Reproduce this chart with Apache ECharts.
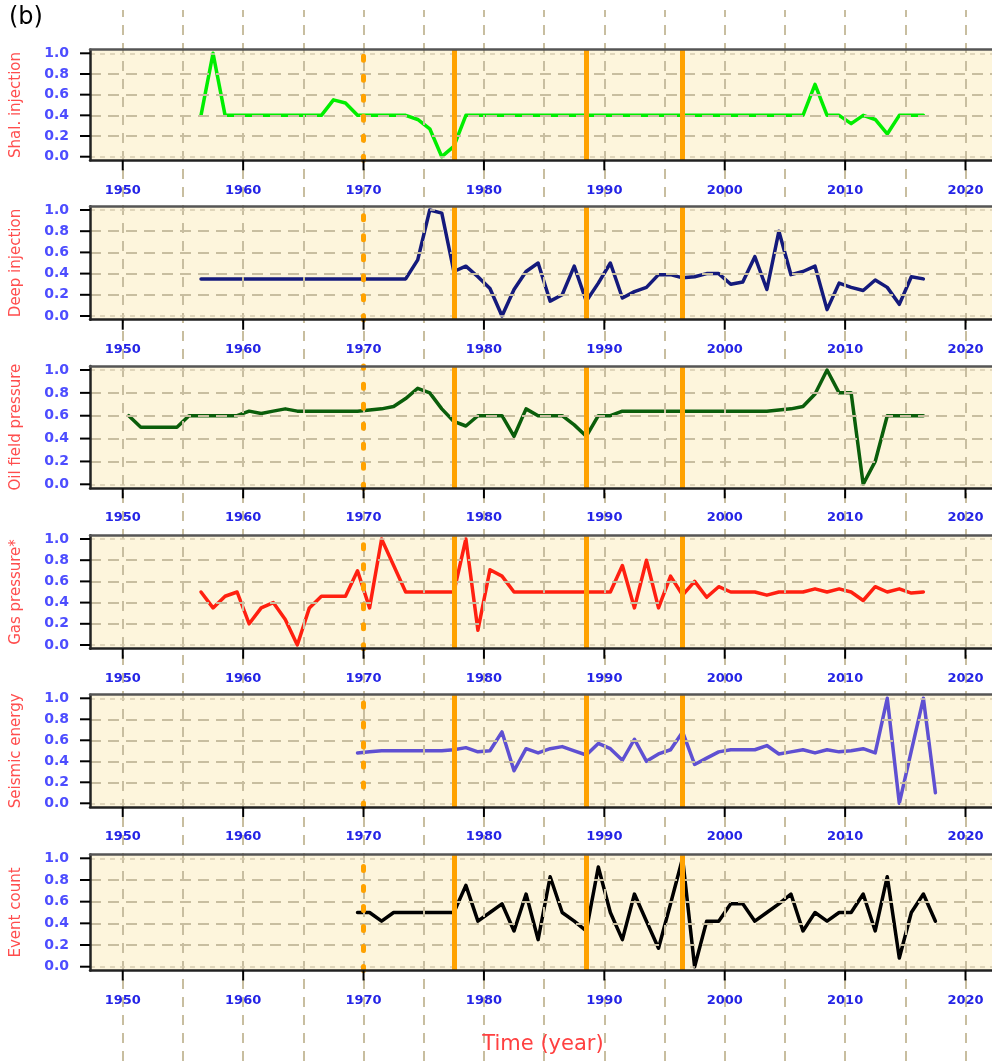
<!DOCTYPE html>
<html>
<head>
<meta charset="utf-8">
<title>(b) normalised time series</title>
<script src="https://cdn.jsdelivr.net/npm/echarts@6/dist/echarts.min.js"></script>
<style>
  html, body { margin: 0; padding: 0; background: #ffffff; }
  #main { width: 992px; height: 1061px; }
</style>
</head>
<body>
<div id="main"></div>
<script>
// one value per year, first year given separately (plotted at mid-year)
var shalStart = 1956;
var shalValues = [
  0.40, 1.00, 0.40, 0.40, 0.40, 0.40, 0.40, 0.40, 0.40, 0.40,
  0.40, 0.55, 0.52, 0.40, 0.40, 0.40, 0.40, 0.40, 0.36, 0.27,
  0.00, 0.10, 0.40, 0.40, 0.40, 0.40, 0.40, 0.40, 0.40, 0.40,
  0.40, 0.40, 0.40, 0.40, 0.40, 0.40, 0.40, 0.40, 0.40, 0.40,
  0.40, 0.40, 0.40, 0.40, 0.40, 0.40, 0.40, 0.40, 0.40, 0.40,
  0.40, 0.70, 0.40, 0.40, 0.32, 0.40, 0.36, 0.22, 0.40, 0.40,
  0.40
];

var deepStart = 1956;
var deepValues = [
  0.35, 0.35, 0.35, 0.35, 0.35, 0.35, 0.35, 0.35, 0.35, 0.35,
  0.35, 0.35, 0.35, 0.35, 0.35, 0.35, 0.35, 0.35, 0.53, 1.00,
  0.97, 0.42, 0.47, 0.37, 0.26, 0.00, 0.25, 0.42, 0.50, 0.14,
  0.20, 0.47, 0.14, 0.31, 0.50, 0.17, 0.23, 0.27, 0.39, 0.39,
  0.36, 0.37, 0.40, 0.40, 0.30, 0.32, 0.56, 0.25, 0.80, 0.39,
  0.42, 0.47, 0.06, 0.31, 0.27, 0.24, 0.34, 0.27, 0.11, 0.37,
  0.35
];

var oilStart = 1950;
var oilValues = [
  0.60, 0.50, 0.50, 0.50, 0.50, 0.60, 0.60, 0.60, 0.60, 0.60,
  0.64, 0.62, 0.64, 0.66, 0.64, 0.64, 0.64, 0.64, 0.64, 0.64,
  0.65, 0.66, 0.68, 0.75, 0.84, 0.80, 0.66, 0.55, 0.51, 0.60,
  0.60, 0.60, 0.42, 0.66, 0.60, 0.60, 0.60, 0.52, 0.42, 0.60,
  0.60, 0.64, 0.64, 0.64, 0.64, 0.64, 0.64, 0.64, 0.64, 0.64,
  0.64, 0.64, 0.64, 0.64, 0.65, 0.66, 0.68, 0.79, 1.00, 0.80,
  0.80, 0.00, 0.20, 0.60, 0.60, 0.60, 0.60
];

var gasStart = 1956;
var gasValues = [
  0.50, 0.35, 0.46, 0.50, 0.20, 0.35, 0.40, 0.24, 0.00, 0.35,
  0.46, 0.46, 0.46, 0.70, 0.35, 1.00, 0.75, 0.50, 0.50, 0.50,
  0.50, 0.50, 1.00, 0.14, 0.71, 0.65, 0.50, 0.50, 0.50, 0.50,
  0.50, 0.50, 0.50, 0.50, 0.50, 0.75, 0.35, 0.80, 0.35, 0.65,
  0.47, 0.60, 0.45, 0.55, 0.50, 0.50, 0.50, 0.47, 0.50, 0.50,
  0.50, 0.53, 0.50, 0.53, 0.50, 0.42, 0.55, 0.50, 0.53, 0.49,
  0.50
];

var seisStart = 1969;
var seisValues = [
  0.48,
  0.49, 0.50, 0.50, 0.50, 0.50, 0.50, 0.50, 0.51,
  0.53, 0.49, 0.50, 0.68, 0.31, 0.52, 0.48, 0.52, 0.54, 0.50,
  0.46, 0.57, 0.52, 0.41, 0.61, 0.40, 0.47, 0.51, 0.68, 0.37,
  0.43, 0.49, 0.51, 0.51, 0.51, 0.55, 0.47, 0.49, 0.51, 0.48,
  0.51, 0.49, 0.50, 0.52, 0.48, 1.00, 0.00, 0.50, 1.00, 0.10
];

var eventStart = 1969;
var eventValues = [
  0.50,
  0.50, 0.42, 0.50, 0.50, 0.50, 0.50, 0.50, 0.50,
  0.75, 0.42, 0.50, 0.58, 0.33, 0.67, 0.25, 0.83, 0.50, 0.42,
  0.33, 0.92, 0.50, 0.25, 0.67, 0.42, 0.17, 0.58, 1.00, 0.00,
  0.42, 0.42, 0.58, 0.58, 0.42, 0.50, 0.58, 0.67, 0.33, 0.50,
  0.42, 0.50, 0.50, 0.67, 0.33, 0.83, 0.08, 0.50, 0.67, 0.42
];

var panelTitles = ["Shal. injection", "Deep injection", "Oil field pressure",
                   "Gas pressure*", "Seismic energy", "Event count"];
var panelColors = ["#00ee00", "#141a7c", "#0b5e0b", "#ff2010", "#5f50d2", "#000000"];

var tickYears = [1950, 1960, 1970, 1980, 1990, 2000, 2010, 2020];
var gridYears = [1950, 1955, 1960, 1965, 1970, 1975, 1980, 1985, 1990,
                 1995, 2000, 2005, 2010, 2015, 2020];
var yGridValues = [0, 0.2, 0.4, 0.6, 0.8, 1.0];
var dashedYear = 1970;
var solidYears = [1977.5, 1988.5, 1996.5];

var panels = [
  { start: shalStart, values: shalValues },
  { start: deepStart, values: deepValues },
  { start: oilStart, values: oilValues },
  { start: gasStart, values: gasValues },
  { start: seisStart, values: seisValues },
  { start: eventStart, values: eventValues }
];

// layout (pixels)
var LEFT = 90, RIGHT = -10, W = 992;
var XMIN = 1947.28, XMAX = 2023.03;
var PAD = 0.035;                       // y padding beyond 0..1
var oneTop = [53.3, 210, 370, 539, 698.3, 858.3];   // pixel row of 1.0
var unit = [103.4, 106, 114.3, 106, 105, 108.4];    // pixels for 0 -> 1
var TICK = 10;
var FONT = "DejaVu Sans";
var tan = "#c8bea0";
var pxPerYear = (W - RIGHT - LEFT) / (XMAX - XMIN);
var tickLeft = LEFT + (1950 - XMIN) * pxPerYear;
var tickWidth = 70 * pxPerYear;

function toPoints(start, values) {
  return values.map(function (v, i) { return [start + i + 0.5, v]; });
}

function hidden() { return { show: false }; }
function bareAxis(gi, min, max) {
  return { gridIndex: gi, type: "value", min: min, max: max, show: false };
}
function lines(xi, yi, z, style, data) {
  return {
    type: "line", xAxisIndex: xi, yAxisIndex: yi, data: [], z: z, silent: true,
    markLine: {
      silent: true, symbol: ["none", "none"], animation: false,
      label: { show: false }, lineStyle: style, data: data
    }
  };
}

var grids = [{ left: LEFT, right: RIGHT, top: 10, bottom: 0, outerBoundsMode: "none" }];
var xAxes = [bareAxis(0, XMIN, XMAX)];
var yAxes = [bareAxis(0, 0, 1)];
var series = [
  lines(0, 0, 1, { color: tan, width: 2, type: [10, 8] },
        gridYears.map(function (y) { return { xAxis: y }; }))
];
var panelAxes = [];

panels.forEach(function (p, i) {
  var padPx = PAD * unit[i];
  var boxTop = oneTop[i] - padPx, boxH = unit[i] + 2 * padPx;

  // box grid: cream panel, border, data
  var boxIdx = grids.length;
  grids.push({
    left: LEFT, right: RIGHT, top: boxTop, height: boxH,
    show: true, backgroundColor: "#fdf5dc", borderWidth: 0, outerBoundsMode: "none"
  });
  var xi = xAxes.length;
  xAxes.push({
    gridIndex: boxIdx, type: "value", min: XMIN, max: XMAX, position: "bottom", z: 5,
    axisLine: { show: true, onZero: false, lineStyle: { color: "#222", width: 2.5 } },
    axisTick: hidden(), axisLabel: hidden(), splitLine: hidden()
  });
  xAxes.push({
    gridIndex: boxIdx, type: "value", min: XMIN, max: XMAX, position: "top", z: 5,
    axisLine: { show: true, onZero: false, lineStyle: { color: "#555", width: 2.5 } },
    axisTick: hidden(), axisLabel: hidden(), splitLine: hidden()
  });
  var yi = yAxes.length;
  yAxes.push({
    gridIndex: boxIdx, type: "value", min: -PAD, max: 1 + PAD, z: 5,
    name: panelTitles[i], nameLocation: "middle", nameGap: 66,
    nameTextStyle: { color: "#ff4d4d", fontFamily: FONT, fontSize: 15 },
    axisLine: { show: true, onZero: false, lineStyle: { color: "#222", width: 2.5 } },
    axisTick: hidden(), axisLabel: hidden(), splitLine: hidden()
  });
  panelAxes.push({ xi: xi, yi: yi });

  // label grid: exactly 1950..2020 by 0..1, labels shifted onto the box edges
  var labIdx = grids.length;
  grids.push({
    left: tickLeft, width: tickWidth, top: oneTop[i], height: unit[i],
    show: false, outerBoundsMode: "none"
  });
  xAxes.push({
    gridIndex: labIdx, type: "value", min: 1950, max: 2020, interval: 10,
    position: "bottom", offset: padPx, z: 5,
    axisLine: hidden(), axisTick: hidden(), splitLine: hidden(),
    axisLabel: { margin: 27 - padPx, color: "#2424e6", fontFamily: FONT,
                 fontWeight: "bold", fontSize: 13,
                 formatter: function (v) { return String(v); } }
  });
  yAxes.push({
    gridIndex: labIdx, type: "value", min: 0, max: 1, interval: 0.2,
    position: "left", offset: tickLeft - LEFT, z: 5,
    axisLine: hidden(), axisTick: hidden(), splitLine: hidden(),
    axisLabel: { margin: 21, color: "#4d4dff", fontFamily: FONT,
                 fontWeight: "bold", fontSize: 14,
                 formatter: function (v) { return v.toFixed(1); } }
  });

  // horizontal grid lines
  series.push(lines(xi, yi, 1, null, yGridValues.map(function (v) {
    var edge = (v === 0 || v === 1);
    return {
      yAxis: v,
      lineStyle: edge ? { color: "#d6ccb0", width: 1.5, type: [5, 5] }
                      : { color: tan, width: 2, type: [11, 7] }
    };
  })));

  // data line
  series.push({
    type: "line", name: panelTitles[i], xAxisIndex: xi, yAxisIndex: yi, z: 3,
    data: toPoints(p.start, p.values),
    showSymbol: false, symbol: "none",
    lineStyle: { color: panelColors[i], width: 3.5, cap: "round", join: "round" }
  });

  // orange event markers
  series.push(lines(xi, yi, 4, { color: "#ffa200", width: 5, type: "solid" },
    [{ xAxis: dashedYear,
       lineStyle: { color: "#ffa200", width: 5, type: [4, 16], cap: "round" } }]
      .concat(solidYears.map(function (y) { return { xAxis: y }; }))));
});

var chart = echarts.init(document.getElementById("main"));
chart.setOption({
  animation: false,
  backgroundColor: "#ffffff",
  grid: grids,
  xAxis: xAxes,
  yAxis: yAxes,
  series: series
});

// outward tick marks, placed through each panel's own axis scales
var graphics = [
  { type: "text", left: 9, top: 6, z: 10,
    style: { text: "(b)", fontFamily: FONT, fontSize: 24, fill: "#000" } },
  { type: "text", x: 543, y: 1045, z: 10,
    style: { text: "Time (year)", fontFamily: FONT, fontSize: 21, fill: "#ff4040",
             align: "center", verticalAlign: "middle" } }
];
panelAxes.forEach(function (a) {
  var yBottom = chart.convertToPixel({ yAxisIndex: a.yi }, -PAD);
  var xLeft = chart.convertToPixel({ xAxisIndex: a.xi }, XMIN);
  tickYears.forEach(function (yr) {
    var x = chart.convertToPixel({ xAxisIndex: a.xi }, yr);
    graphics.push({ type: "line", z: 10, silent: true,
      shape: { x1: x, y1: yBottom, x2: x, y2: yBottom + TICK },
      style: { stroke: "#000", lineWidth: 2 } });
  });
  yGridValues.forEach(function (v) {
    var y = chart.convertToPixel({ yAxisIndex: a.yi }, v);
    graphics.push({ type: "line", z: 10, silent: true,
      shape: { x1: xLeft - TICK, y1: y, x2: xLeft, y2: y },
      style: { stroke: "#000", lineWidth: 2 } });
  });
});
chart.setOption({ graphic: graphics });
</script>
</body>
</html>
